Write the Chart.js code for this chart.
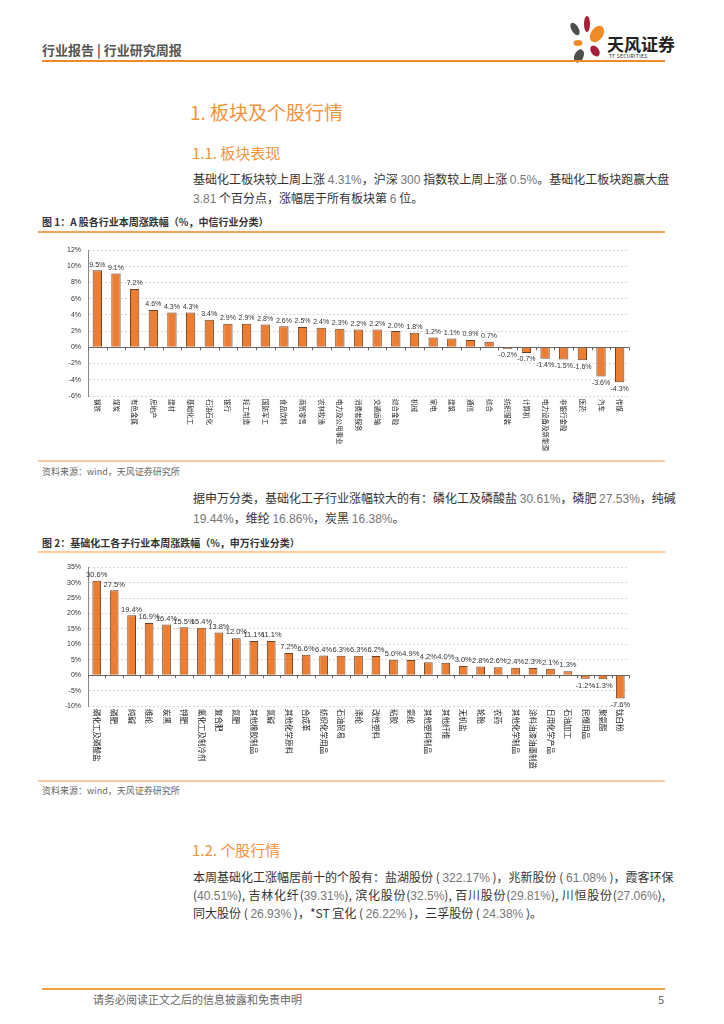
<!DOCTYPE html>
<html>
<head>
<meta charset="utf-8">
<script src="https://cdn.jsdelivr.net/npm/chart.js@4.4.1/dist/chart.umd.min.js"></script>
<style>
body { margin: 0; width: 724px; height: 1024px; position: relative; background: #fff; overflow: hidden;
       font-family: "Noto Sans CJK SC", "Noto Sans", sans-serif; color: #333; }
.t { position: absolute; white-space: nowrap; line-height: 1; }
.rule { position: absolute; }
.hd { font-size: 19px; color: #F3923D; }
.hd2 { font-size: 15px; color: #F3923D; }
.p { font-size: 12px; width: 472px; left: 193px; }
.full { text-align: justify; text-align-last: justify; }
.n { color: #777; font-family: "Liberation Sans", sans-serif; }
.fig { font-size: 10px; font-weight: bold; color: #333; left: 42px; }
.src { font-size: 9px; color: #666; left: 42px; }
.box { position: absolute; left: 38px; width: 627px; height: 222px; }
</style>
</head>
<body>
<div class="t" style="left:42px;top:43px;font-size:13px;font-weight:bold;color:#555;">行业报告 | 行业研究周报</div>
<svg class="rule" style="left:565px;top:15px;" width="42" height="50" viewBox="0 0 42 50">
  <ellipse cx="10" cy="14" rx="3.5" ry="7" fill="#4d4d4d" transform="rotate(-30 10 14)"/>
  <ellipse cx="22" cy="9" rx="3" ry="8" fill="#A5203A"/>
  <ellipse cx="32" cy="19" rx="6" ry="9" fill="#F08A24" transform="rotate(35 32 19)"/>
  <ellipse cx="13" cy="28" rx="4.5" ry="3" fill="#F08A24"/>
  <ellipse cx="30" cy="36" rx="4" ry="6" fill="#A5203A" transform="rotate(-35 30 36)"/>
  <ellipse cx="14" cy="41" rx="4.5" ry="7" fill="#4d4d4d" transform="rotate(25 14 41)"/>
</svg>
<div class="t" style="left:607px;top:35px;font-size:17px;font-weight:bold;color:#222;">天风证券</div>
<div class="t" style="left:609px;top:53px;font-size:5px;color:#222;letter-spacing:0.3px;">TF SECURITIES</div>
<div class="rule" style="left:42px;top:60px;width:623px;height:2px;background:#F08A24;"></div>

<div class="t hd" style="left:190px;top:102px;">1. 板块及个股行情</div>
<div class="t hd2" style="left:192px;top:145px;">1.1. 板块表现</div>
<div class="t p full" style="top:173px;">基础化工板块较上周上涨 <span class="n">4.31%</span>，沪深 <span class="n">300</span> 指数较上周上涨 <span class="n">0.5%</span>。基础化工板块跑赢大盘</div>
<div class="t p" style="top:192px;"><span class="n">3.81</span> 个百分点，涨幅居于所有板块第 <span class="n">6</span> 位。</div>

<div class="t fig" style="top:217px;">图 1：A 股各行业本周涨跌幅（%，中信行业分类）</div>
<div class="rule" style="left:38px;top:231px;width:627px;height:2px;background:#F5A35A;"></div>
<div class="box" style="top:236px;"><canvas id="chart1"></canvas></div>
<div class="rule" style="left:38px;top:460px;width:627px;height:2px;background:#FCCB9E;"></div>
<div class="t src" style="top:467px;">资料来源：wind，天风证券研究所</div>

<div class="t p full" style="top:492px;">据申万分类，基础化工子行业涨幅较大的有：磷化工及磷酸盐 <span class="n">30.61%</span>，磷肥 <span class="n">27.53%</span>，纯碱</div>
<div class="t p" style="top:512px;"><span class="n">19.44%</span>，维纶 <span class="n">16.86%</span>，炭黑 <span class="n">16.38%</span>。</div>

<div class="t fig" style="top:538px;">图 2：基础化工各子行业本周涨跌幅（%，申万行业分类）</div>
<div class="rule" style="left:38px;top:551px;width:627px;height:2px;background:#FCCB9E;"></div>
<div class="box" style="top:556px;"><canvas id="chart2"></canvas></div>
<div class="rule" style="left:38px;top:780px;width:627px;height:2px;background:#FCCB9E;"></div>
<div class="t src" style="top:786px;">资料来源：wind，天风证券研究所</div>

<div class="t hd2" style="left:192px;top:842px;">1.2. 个股行情</div>
<div class="t p full" style="top:871px;">本周基础化工涨幅居前十的个股有：盐湖股份 ( <span class="n">322.17%</span> )，兆新股份 ( <span class="n">61.08%</span> )，霞客环保</div>
<div class="t p full" style="top:889px;">(<span class="n">40.51%</span>), 吉林化纤(<span class="n">39.31%</span>), 滨化股份(<span class="n">32.5%</span>), 百川股份(<span class="n">29.81%</span>), 川恒股份(<span class="n">27.06%</span>),</div>
<div class="t p" style="top:907px;">同大股份 ( <span class="n">26.93%</span> )，*ST 宜化 ( <span class="n">26.22%</span> )，三孚股份 ( <span class="n">24.38%</span> )。</div>

<div class="rule" style="left:42px;top:988px;width:623px;height:2px;background:#F0A040;"></div>
<div class="t" style="left:93px;top:994px;font-size:11px;color:#666;">请务必阅读正文之后的信息披露和免责申明</div>
<div class="t" style="left:658px;top:994px;font-size:11px;color:#666;">5</div>

<script>
// 图1：中信行业
const industryLabels = ['钢铁', '煤炭', '有色金属', '房地产', '建材', '基础化工', '石油石化', '银行', '轻工制造', '国防军工',
    '食品饮料', '商贸零售', '农林牧渔', '电力及公用事业', '消费者服务', '交通运输', '综合金融', '机械', '家电', '建筑',
    '通信', '综合', '纺织服装', '计算机', '电力设备及新能源', '非银行金融', '医药', '汽车', '传媒'];
const industryValues = [9.5, 9.1, 7.2, 4.6, 4.3, 4.3, 3.4, 2.9, 2.9, 2.8,
    2.6, 2.5, 2.4, 2.3, 2.2, 2.2, 2.0, 1.8, 1.2, 1.1,
    0.9, 0.7, -0.2, -0.7, -1.4, -1.5, -1.6, -3.6, -4.3];
const industryTicks = { min: -6, max: 12, step: 2 };

// 图2：申万基础化工子行业
const subLabels = ['磷化工及磷酸盐', '磷肥', '纯碱', '维纶', '炭黑', '钾肥', '氟化工及制冷剂', '复合肥', '氮肥', '其他橡胶制品',
    '氯碱', '其他化学原料', '合成革', '纺织化学用品', '石油贸易', '涤纶', '改性塑料', '粘胶', '氨纶', '其他塑料制品',
    '其他纤维', '无机盐', '轮胎', '农药', '其他化学制品', '涂料油漆油墨制造', '日用化学产品', '石油加工', '民爆用品', '聚氨酯', '钛白粉'];
const subValues = [30.6, 27.5, 19.4, 16.9, 16.4, 15.5, 15.4, 13.8, 12.0, 11.1,
    11.1, 7.2, 6.6, 6.4, 6.3, 6.3, 6.2, 5.0, 4.9, 4.2,
    4.0, 3.0, 2.8, 2.6, 2.4, 2.3, 2.1, 1.3, -1.2, -1.3, -7.6];
const subTicks = { min: -10, max: 35, step: 5 };

const barColor = '#ED7D31';

const barDecor = {
    id: 'barDecor',
    afterDatasetsDraw(chart, args, opts) {
        const ctx = chart.ctx;
        const xs = chart.scales.x, ys = chart.scales.y;
        const data = chart.data.datasets[0].data;
        const y0 = ys.getPixelForValue(0);
        ctx.save();
        // small ticks on the zero line between categories
        ctx.strokeStyle = '#666';
        ctx.lineWidth = 1;
        for (let i = 0; i <= data.length; i++) {
            const px = Math.round(xs.getPixelForValue(i - 0.5)) + 0.5;
            ctx.beginPath(); ctx.moveTo(px, y0); ctx.lineTo(px, y0 + 3); ctx.stroke();
        }
        ctx.font = opts.size + 'px "Liberation Sans", Arial, sans-serif';
        ctx.fillStyle = '#333';
        ctx.textAlign = 'center';
        chart.getDatasetMeta(0).data.forEach((bar, i) => {
            const v = data[i];
            const txt = v.toFixed(1) + '%';
            if (v >= 0) { ctx.textBaseline = 'bottom'; ctx.fillText(txt, bar.x, bar.y - 2); }
            else { ctx.textBaseline = 'top'; ctx.fillText(txt, bar.x, bar.y + 3); }
        });
        ctx.restore();
    },
    afterDraw(chart, args, opts) {
        const ctx = chart.ctx;
        const xs = chart.scales.x;
        ctx.save();
        ctx.font = opts.labelSize + 'px "Noto Sans CJK SC", sans-serif';
        ctx.fillStyle = '#222';
        ctx.textAlign = 'left';
        ctx.textBaseline = 'middle';
        chart.data.labels.forEach((lab, i) => {
            ctx.save();
            ctx.translate(xs.getPixelForTick(i), chart.chartArea.bottom + 3);
            ctx.rotate(Math.PI / 2);
            ctx.fillText(lab, 0, 0);
            ctx.restore();
        });
        ctx.restore();
    }
};

function makeChart(id, labels, values, ticks, pad, xHeight, sizes) {
    return new Chart(document.getElementById(id), {
        type: 'bar',
        data: {
            labels: labels,
            datasets: [{ data: values, backgroundColor: barColor, borderColor: '#6b4427', borderWidth: 1,
                categoryPercentage: 1, barPercentage: 0.5 }]
        },
        options: {
            responsive: true, maintainAspectRatio: false, animation: false,
            layout: { padding: { left: 0, right: 36, top: pad, bottom: 2 } },
            plugins: { legend: { display: false }, tooltip: { enabled: false },
                barDecor: { size: sizes.value, labelSize: sizes.label } },
            scales: {
                x: {
                    grid: { display: false }, border: { display: false },
                    ticks: { display: false },
                    afterFit: s => { s.height = xHeight; }
                },
                y: {
                    min: ticks.min, max: ticks.max,
                    afterFit: s => { s.width = 50; },
                    ticks: { stepSize: ticks.step, padding: 7, color: '#333',
                        font: { family: '"Liberation Sans", Arial, sans-serif', size: 7 },
                        callback: v => v + '%' },
                    grid: { drawTicks: false, lineWidth: 1,
                        color: c => (c.tick && c.tick.value === 0) ? '#666' : '#d6d6d6' },
                    border: { color: '#888', width: 1,
                        dash: c => (c.tick && c.tick.value === 0) ? [] : [2, 2] }
                }
            }
        },
        plugins: [barDecor]
    });
}

makeChart('chart1', industryLabels, industryValues, industryTicks, 14, 60, { value: 7, label: 6.5 });
makeChart('chart2', subLabels, subValues, subTicks, 10, 70, { value: 7.5, label: 7.5 });
</script>
</body>
</html>
